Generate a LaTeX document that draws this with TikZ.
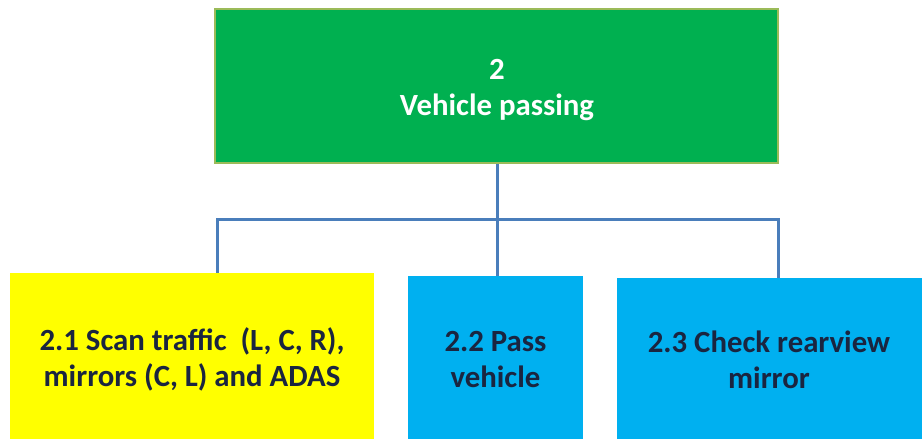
\documentclass[tikz,border=0pt]{standalone}
\usepackage{fontspec}
\setmainfont{Carlito}
\definecolor{grn}{HTML}{00B050}
\definecolor{olv}{HTML}{9BBB59}
\definecolor{yel}{HTML}{FFFF00}
\definecolor{blu}{HTML}{00B0F0}
\definecolor{lin}{HTML}{4A7EBB}
\definecolor{txt}{HTML}{1A2540}
\begin{document}
\begin{tikzpicture}[x=1pt,y=-1pt,
  topbox/.style={draw=olv,line width=2.5pt,fill=grn,inner sep=0pt},
  subbox/.style={fill=#1,inner sep=0pt},
  toptext/.style={text=white,font=\fontsize{30.8}{36}\selectfont\bfseries,align=center,inner sep=0pt},
  subtext/.style={text=txt,font=\fontsize{30.8}{36}\selectfont\bfseries,align=center,inner sep=0pt},
  conn/.style={draw=lin,line width=3pt}]
\useasboundingbox (0,0) rectangle (922,439);
\node[topbox,minimum width=563pt,minimum height=154pt] (top) at (496.5,86) {};
\node[toptext] (toplbl) at (497,90) {2\\Vehicle passing};
\node[subbox=yel,minimum width=364pt,minimum height=170pt] (b1) at (192,358) {};
\node[subtext] (b1lbl) at (192,359) {2.1 Scan traffic\ \ (L, C, R),\\mirrors (C, L) and ADAS};
\node[subbox=blu,minimum width=175pt,minimum height=170pt] (b2) at (495.5,361) {};
\node[subtext] (b2lbl) at (495.5,360) {2.2 Pass\\vehicle};
\node[subbox=blu,minimum width=310pt,minimum height=166pt] (b3) at (772,361) {};
\node[subtext] (b3lbl) at (769,359.5) {2.3 Check rearview\\mirror};
\coordinate (jl) at (217,219);
\coordinate (jm) at (497.5,219);
\coordinate (jr) at (778,219);
\draw[conn] (top.south -| jm) -- (jm |- b2.north);
\draw[conn] (jl |- b1.north) -- (jl) -- (jr) -- (jr |- b3.north);
\end{tikzpicture}
\end{document}
